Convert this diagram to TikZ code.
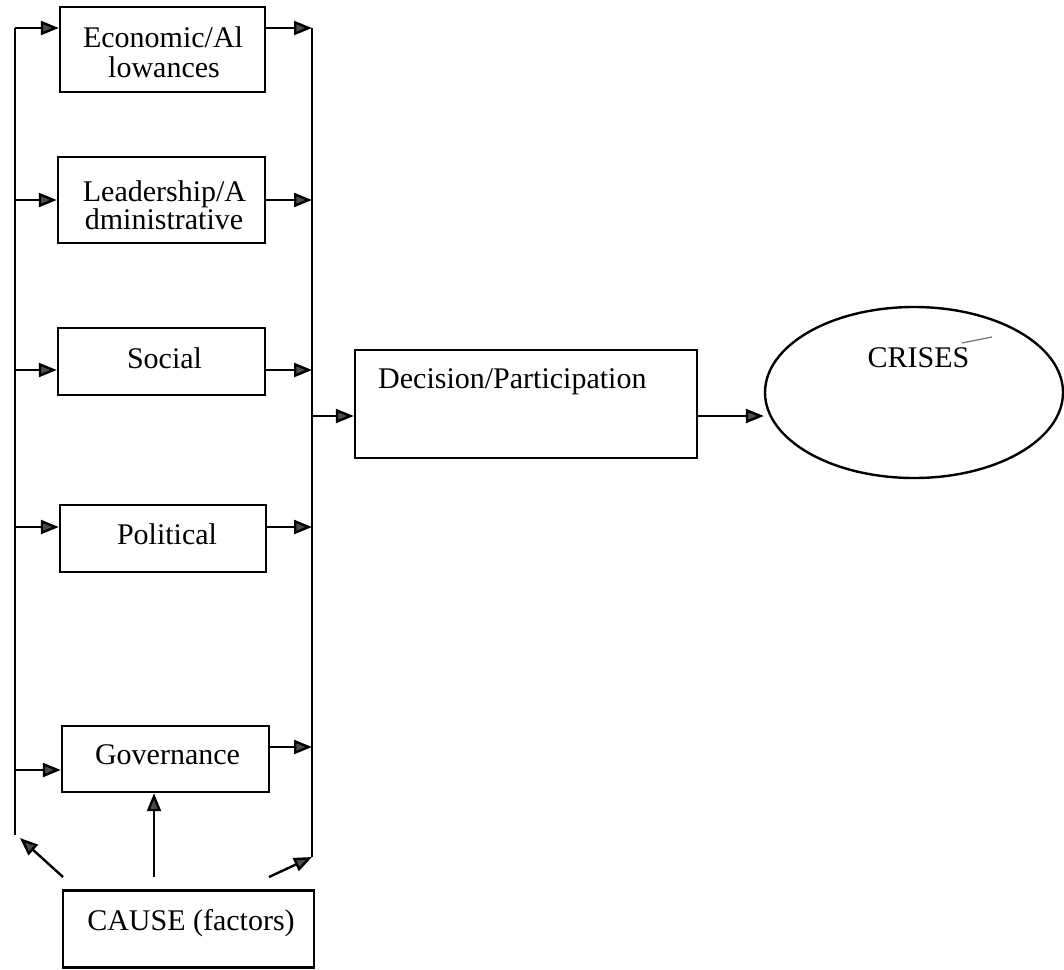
\documentclass[tikz,border=0pt]{standalone}
\usepackage{fontspec}
\setmainfont{Liberation Serif}
\usetikzlibrary{arrows.meta,calc,shapes.geometric}
\begin{document}
\begin{tikzpicture}[x=1pt,y=-1pt,
  box/.style={draw,line width=2.4pt,rectangle,inner sep=0pt},
  txt/.style={inner sep=0pt,anchor=base,font=\fontsize{30}{30}\selectfont},
  conn/.style={line width=2.4pt},
  arr/.style={line width=2.4pt,-{Triangle[length=18pt,width=14pt,fill=black!70]}}]
\useasboundingbox (0,0) rectangle (1064,969);
% boxes
\node[box,minimum width=205pt,minimum height=85pt] (econ) at (162.5,49.5) {};
\node[txt] (econa) at (163,47) {Economic/Al};
\node[txt] (econb) at (164,77) {lowances};
\node[box,minimum width=207pt,minimum height=86pt] (lead) at (161.5,200) {};
\node[txt] (leada) at (164.5,201) {Leadership/A};
\node[txt] (leadb) at (164,229) {dministrative};
\node[box,minimum width=207pt,minimum height=67pt] (soc) at (161.5,361.5) {};
\node[txt] (soct) at (164.5,368) {Social};
\node[box,minimum width=206pt,minimum height=67pt] (pol) at (163,538.5) {};
\node[txt] (polt) at (167,544) {Political};
\node[box,minimum width=207pt,minimum height=66pt] (gov) at (165.5,759) {};
\node[txt] (govt) at (167.5,764) {Governance};
\node[box,minimum width=251pt,minimum height=77pt] (cause) at (188.5,929) {};
\node[txt] (causet) at (191,930) {CAUSE (factors)};
\node[box,minimum width=342pt,minimum height=108pt] (dec) at (526,404) {};
\node[txt,anchor=base west] (dect) at (378,388) {Decision/Participation};
\node[draw,line width=2.4pt,ellipse,minimum width=298pt,minimum height=171pt,inner sep=0pt] (cri) at (914,392.5) {};
\node[txt] (crit) at (918.5,367) {CRISES};
% bus lines
\coordinate (Ltop) at (15,28);
\coordinate (Lbot) at (15,835);
\coordinate (Rtop) at (312,28);
\coordinate (Rbot) at (312,857);
\draw[conn] (Ltop) -- (Lbot);
\draw[conn] (Rtop) -- (Rbot);
% left arrows into boxes
\coordinate (L1) at (15,28);
\coordinate (L2) at (15,200);
\coordinate (L3) at (15,370);
\coordinate (L4) at (15,527);
\coordinate (L5) at (15,770);
\draw[arr] (L1) -- (econ.west |- L1);
\draw[arr] (L2) -- (lead.west |- L2);
\draw[arr] (L3) -- (soc.west |- L3);
\draw[arr] (L4) -- (pol.west |- L4);
\draw[arr] (L5) -- (gov.west |- L5);
% right arrows out of boxes
\coordinate (R1) at (312,28);
\coordinate (R2) at (312,200);
\coordinate (R3) at (312,370);
\coordinate (R4) at (312,527);
\coordinate (R5) at (312,747);
\draw[arr] (econ.east |- R1) -- (R1);
\draw[arr] (lead.east |- R2) -- (R2);
\draw[arr] (soc.east |- R3) -- (R3);
\draw[arr] (pol.east |- R4) -- (R4);
\draw[arr] (gov.east |- R5) -- (R5);
% to decision and crises
\coordinate (Rd) at (312,416);
\draw[arr] (Rd) -- (dec.west |- Rd);
\draw[arr] (dec.east |- Rd) -- (cri.west |- Rd);
% cause arrows
\coordinate (c1) at (63,877);
\coordinate (c2) at (154,877);
\coordinate (c3) at (269,877);
\coordinate (Lend) at (20,838);
\draw[arr] (c1) -- (Lend);
\draw[arr] (c2) -- (gov.south -| c2);
\draw[arr] (c3) -- (Rbot);
% stray mark
\draw[line width=1.2pt,black!55] (962,343) -- (992,337);
\end{tikzpicture}
\end{document}
